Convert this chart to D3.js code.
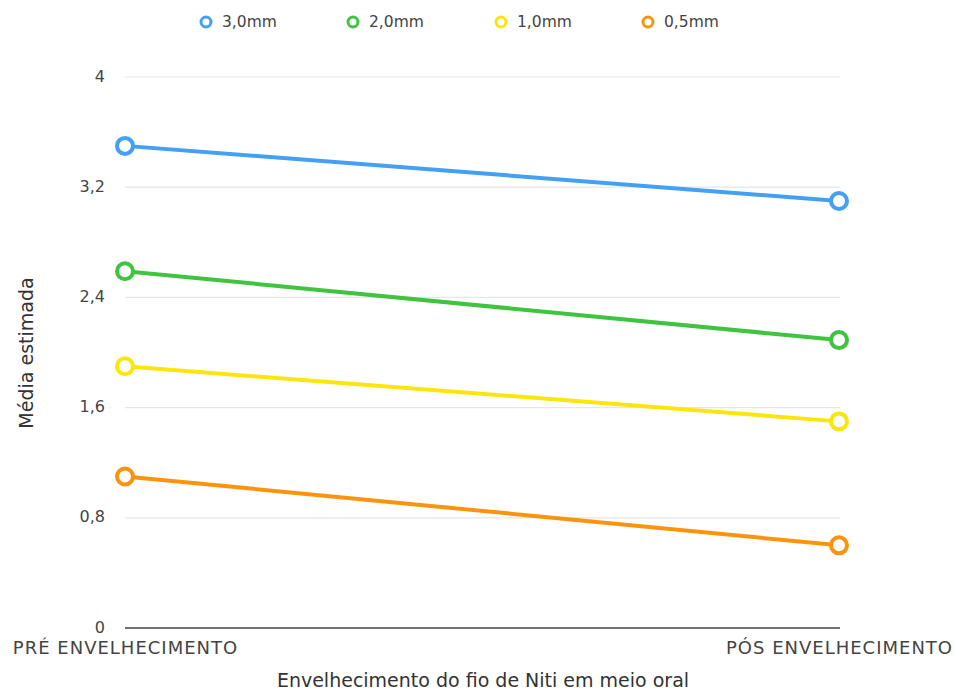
<!DOCTYPE html>
<html>
<head>
<meta charset="utf-8">
<script src="https://cdn.jsdelivr.net/npm/d3@7"></script>
<style>
  body { margin: 0; background: #fff; }
  svg { display: block; font-family: "DejaVu Sans", "Liberation Sans", Arial, sans-serif; }
</style>
</head>
<body>
<svg id="chart" width="955" height="692"></svg>
<script>
// Mean estimates before and after ageing of NiTi wire, by deflection
const categories = ["PRÉ ENVELHECIMENTO", "PÓS ENVELHECIMENTO"];
const seriesNames = ["3,0mm", "2,0mm", "1,0mm", "0,5mm"];
const seriesColors = ["#44a0f2", "#3ec43e", "#fbe60c", "#fb940c"];
const values3_0 = [3.50, 3.10];
const values2_0 = [2.59, 2.09];
const values1_0 = [1.90, 1.50];
const values0_5 = [1.10, 0.60];
const yTicks = [0, 0.8, 1.6, 2.4, 3.2, 4];
const yTickLabels = ["0", "0,8", "1,6", "2,4", "3,2", "4"];
const xTitle = "Envelhecimento do fio de Niti em meio oral";
const yTitle = "Média estimada";

const series = [values3_0, values2_0, values1_0, values0_5].map((v, i) => ({
  name: seriesNames[i], color: seriesColors[i], values: v
}));

const FONT = "'DejaVu Sans', 'Liberation Sans', Arial, sans-serif";
const svg = d3.select("#chart");
const plotLeft = 125, plotRight = 839, plotTop = 77, plotBottom = 628;

const x = d3.scalePoint().domain(categories).range([plotLeft, plotRight]).padding(0);
const y = d3.scaleLinear().domain([0, 4]).range([plotBottom, plotTop]);

// gridlines
svg.append("g").selectAll("line")
  .data(yTicks.filter(t => t > 0))
  .join("line")
  .attr("x1", plotLeft).attr("x2", plotRight + 1)
  .attr("y1", d => y(d)).attr("y2", d => y(d))
  .attr("stroke", "#e6e6e6").attr("stroke-width", 1.2);

// y tick labels
const yAxis = d3.axisLeft(y).tickValues(yTicks)
  .tickFormat((d, i) => yTickLabels[i]).tickSize(0).tickPadding(0);
const gy = svg.append("g").attr("transform", `translate(${plotLeft - 20},-1)`).call(yAxis);
gy.select(".domain").remove();
gy.selectAll("text").attr("fill", "#444").style("font-size", "16px")
  .style("font-family", FONT);

// baseline
svg.append("line")
  .attr("x1", plotLeft).attr("x2", plotRight + 1)
  .attr("y1", y(0)).attr("y2", y(0))
  .attr("stroke", "#444").attr("stroke-width", 1.6);

// x category labels
const xAxis = d3.axisBottom(x).tickSize(0).tickPadding(0);
const gx = svg.append("g").attr("transform", `translate(0,${plotBottom + 13})`).call(xAxis);
gx.select(".domain").remove();
gx.selectAll("text").attr("fill", "#444").style("font-size", "18px")
  .style("letter-spacing", "1px")
  .style("font-family", FONT);

// axis titles
svg.append("text").attr("x", 483).attr("y", 687)
  .attr("text-anchor", "middle").attr("fill", "#333").style("font-size", "19px")
  .text(xTitle);
svg.append("text")
  .attr("transform", `translate(33,353) rotate(-90)`)
  .attr("text-anchor", "middle").attr("fill", "#333").style("font-size", "19px")
  .text(yTitle);

// lines and markers
const line = d3.line().x((d, i) => x(categories[i])).y(d => y(d));
const gs = svg.append("g").selectAll("g").data(series).join("g");
gs.append("path")
  .attr("d", d => line(d.values))
  .attr("fill", "none").attr("stroke", d => d.color).attr("stroke-width", 4);
gs.selectAll("circle").data(d => d.values.map(v => ({ v, color: d.color })))
  .join("circle")
  .attr("cx", (d, i) => x(categories[i])).attr("cy", d => y(d.v))
  .attr("r", 8).attr("fill", "#fff")
  .attr("stroke", d => d.color).attr("stroke-width", 4);

// legend
const legendX = [206, 353, 501, 648];
const lg = svg.append("g").selectAll("g").data(series).join("g")
  .attr("transform", (d, i) => `translate(${legendX[i]},22)`);
lg.append("circle").attr("r", 5).attr("fill", "#fff")
  .attr("stroke", d => d.color).attr("stroke-width", 3);
lg.append("text").attr("x", 16).attr("dy", "0.35em")
  .attr("fill", "#444").style("font-size", "15.5px").text(d => d.name);
</script>
</body>
</html>
